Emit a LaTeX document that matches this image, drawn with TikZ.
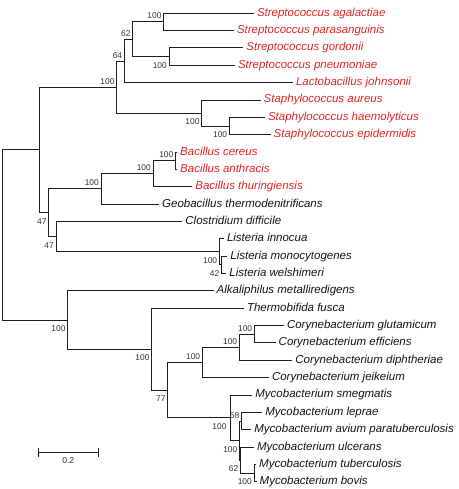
\documentclass[tikz,border=0pt]{standalone}
\usepackage{fontspec}
\setmainfont{Liberation Sans}
\usetikzlibrary{calc}
\definecolor{tred}{RGB}{226,36,36}
\definecolor{tline}{RGB}{30,30,30}
\definecolor{tlab}{RGB}{50,50,50}
\definecolor{tblk}{RGB}{20,20,20}
\begin{document}
\begin{tikzpicture}[x=1pt,y=-1pt,
  edge/.style={draw=tline,line width=1pt,line cap=rect},
  leaf/.style={anchor=west,inner xsep=3.5pt,inner ysep=0pt,text=tblk,
    font=\fontsize{11.5}{13}\selectfont\itshape,text height=8.3pt,text depth=2.4pt},
  redleaf/.style={leaf,text=tred},
  bs/.style={font=\fontsize{8.4}{9}\selectfont,text=tlab,inner sep=0pt,anchor=base east},
  up/.style={bs,xshift=-2pt,yshift=3pt},
  dn/.style={bs,xshift=-2pt,yshift=-11.5pt}]
\useasboundingbox (0,0) rectangle (458,489);
% internal nodes
\coordinate (root) at (2.3,234.99);
\coordinate (nUp) at (39.7,149.93);
\coordinate (nSS) at (116.7,87.04);
\coordinate (n4) at (124.3,61.01);
\coordinate (n0123) at (132.7,39.33);
\coordinate (n01) at (163.7,21.98);
\coordinate (n23) at (169,56.68);
\coordinate (n567) at (201.7,113.06);
\coordinate (n67) at (229.3,126.08);
\coordinate (nFirm) at (48.7,212.83);
\coordinate (nBac) at (101,188.97);
\coordinate (n8910) at (153,173.79);
\coordinate (n89) at (175.5,160.78);
\coordinate (nCL) at (56,236.68);
\coordinate (nList) at (219.3,251.86);
\coordinate (n1415) at (221.5,264.88);
\coordinate (nLow) at (67.7,320.04);
\coordinate (nAct) at (151.7,349.19);
\coordinate (nCM) at (167.7,390.12);
\coordinate (nCor) at (202.3,362.47);
\coordinate (nDiph) at (239.3,347.29);
\coordinate (n1819) at (254.3,334.28);
\coordinate (nMyc) at (230.7,417.77);
\coordinate (nN) at (239.5,440.54);
\coordinate (n2324) at (241.5,421.03);
\coordinate (n25) at (240.5,460.06);
\coordinate (n2627) at (254,473.08);
% leaves
\node[redleaf] (l0) at (253.3,13.30) {Streptococcus agalactiae};
\node[redleaf] (l1) at (233.3,30.65) {Streptococcus parasanguinis};
\node[redleaf] (l2) at (242.7,48.00) {Streptococcus gordonii};
\node[redleaf] (l3) at (234.3,65.35) {Streptococcus pneumoniae};
\node[redleaf] (l4) at (292.3,82.70) {Lactobacillus johnsonii};
\node[redleaf] (l5) at (260.0,100.05) {Staphylococcus aureus};
\node[redleaf] (l6) at (264.3,117.40) {Staphylococcus haemolyticus};
\node[redleaf] (l7) at (270.0,134.75) {Staphylococcus epidermidis};
\node[redleaf] (l8) at (176.5,152.10) {Bacillus cereus};
\node[redleaf] (l9) at (176.5,169.45) {Bacillus anthracis};
\node[redleaf] (l10) at (191.7,186.80) {Bacillus thuringiensis};
\node[leaf] (l11) at (158.5,204.15) {Geobacillus thermodenitrificans};
\node[leaf] (l12) at (181.7,221.50) {Clostridium difficile};
\node[leaf] (l13) at (223.3,238.85) {Listeria innocua};
\node[leaf] (l14) at (226.7,256.20) {Listeria monocytogenes};
\node[leaf] (l15) at (225.7,273.55) {Listeria welshimeri};
\node[leaf] (l16) at (213.0,290.90) {Alkaliphilus metalliredigens};
\node[leaf] (l17) at (243.3,308.25) {Thermobifida fusca};
\node[leaf] (l18) at (283.3,325.60) {Corynebacterium glutamicum};
\node[leaf] (l19) at (275.0,342.95) {Corynebacterium efficiens};
\node[leaf] (l20) at (291.7,360.30) {Corynebacterium diphtheriae};
\node[leaf] (l21) at (268.3,377.65) {Corynebacterium jeikeium};
\node[leaf] (l22) at (251.7,395.00) {Mycobacterium smegmatis};
\node[leaf] (l23) at (261.7,412.35) {Mycobacterium leprae};
\node[leaf] (l24) at (250.7,429.70) {Mycobacterium avium paratuberculosis};
\node[leaf] (l25) at (253.3,447.05) {Mycobacterium ulcerans};
\node[leaf] (l26) at (255.5,464.40) {Mycobacterium tuberculosis};
\node[leaf] (l27) at (256.0,481.75) {Mycobacterium bovis};
% branches
\draw[edge] (root) |- (nUp);   \draw[edge] (root) |- (nLow);
\draw[edge] (nUp) |- (nSS);    \draw[edge] (nUp) |- (nFirm);
\draw[edge] (nSS) |- (n4);     \draw[edge] (nSS) |- (n567);
\draw[edge] (n4) |- (n0123);   \draw[edge] (n4) |- (l4.west);
\draw[edge] (n0123) |- (n01);  \draw[edge] (n0123) |- (n23);
\draw[edge] (n01) |- (l0.west); \draw[edge] (n01) |- (l1.west);
\draw[edge] (n23) |- (l2.west); \draw[edge] (n23) |- (l3.west);
\draw[edge] (n567) |- (l5.west); \draw[edge] (n567) |- (n67);
\draw[edge] (n67) |- (l6.west); \draw[edge] (n67) |- (l7.west);
\draw[edge] (nFirm) |- (nBac); \draw[edge] (nFirm) |- (nCL);
\draw[edge] (nBac) |- (n8910); \draw[edge] (nBac) |- (l11.west);
\draw[edge] (n8910) |- (n89);  \draw[edge] (n8910) |- (l10.west);
\draw[edge] (n89) |- (l8.west); \draw[edge] (n89) |- (l9.west);
\draw[edge] (nCL) |- (l12.west); \draw[edge] (nCL) |- (nList);
\draw[edge] (nList) |- (l13.west); \draw[edge] (nList) |- (n1415);
\draw[edge] (n1415) |- (l14.west); \draw[edge] (n1415) |- (l15.west);
\draw[edge] (nLow) |- (l16.west); \draw[edge] (nLow) |- (nAct);
\draw[edge] (nAct) |- (l17.west); \draw[edge] (nAct) |- (nCM);
\draw[edge] (nCM) |- (nCor);   \draw[edge] (nCM) |- (nMyc);
\draw[edge] (nCor) |- (nDiph); \draw[edge] (nCor) |- (l21.west);
\draw[edge] (nDiph) |- (n1819); \draw[edge] (nDiph) |- (l20.west);
\draw[edge] (n1819) |- (l18.west); \draw[edge] (n1819) |- (l19.west);
\draw[edge] (nMyc) |- (l22.west); \draw[edge] (nMyc) |- (nN);
\draw[edge] (nN) |- (n2324);   \draw[edge] (nN) |- (n25);
\draw[edge] (n2324) |- (l23.west); \draw[edge] (n2324) |- (l24.west);
\draw[edge] (n25) |- (l25.west); \draw[edge] (n25) |- (n2627);
\draw[edge] (n2627) |- (l26.west); \draw[edge] (n2627) |- (l27.west);
% bootstrap values
\node[up] (b01) at (n01) {100};
\node[dn] (b23) at (n23) {100};
\node[up] (b0123) at (n0123) {62};
\node[up] (b4) at (n4) {64};
\node[up] (bSS) at (nSS) {100};
\node[dn] (b567) at (n567) {100};
\node[dn] (b67) at (n67) {100};
\node[up] (b89) at (n89) {100};
\node[up] (b8910) at (n8910) {100};
\node[up] (bBac) at (nBac) {100};
\node[dn] (bFirm) at (nFirm) {47};
\node[dn] (bCL) at (nCL) {47};
\node[dn] (bList) at (nList) {100};
\node[dn] (b1415) at (n1415) {42};
\node[dn] (bLow) at (nLow) {100};
\node[dn] (bAct) at (nAct) {100};
\node[dn] (bCM) at (nCM) {77};
\node[up] (bCor) at (nCor) {100};
\node[up] (bDiph) at (nDiph) {100};
\node[up] (b1819) at (n1819) {100};
\node[dn,xshift=-2pt] (bMyc) at (nMyc) {100};
\node[up] (b2324) at (n2324) {58};
\node[dn] (bN) at (nN) {100};
\node[dn] (b25) at (n25) {62};
\node[dn] (b2627) at (n2627) {100};
% scale bar
\coordinate (sa) at (38.3,452);
\coordinate (sb) at (98.3,452);
\draw[edge] (sa) -- (sb);
\draw[edge] ($(sa)+(0,-4)$) -- ($(sa)+(0,4)$);
\draw[edge] ($(sb)+(0,-4)$) -- ($(sb)+(0,4)$);
\node[font=\fontsize{8.6}{9}\selectfont,text=tlab,inner sep=0pt,anchor=base] (sl) at (68.3,463.5) {0.2};
\end{tikzpicture}
\end{document}
